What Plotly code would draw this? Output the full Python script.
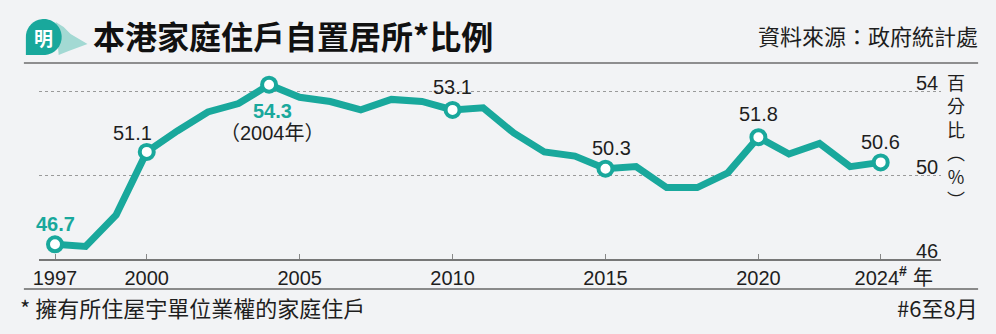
import numpy as np
import plotly.graph_objects as go

# Home-ownership rate of Hong Kong households (%), 1997-2024
years = list(range(1997, 2025))
rates = [46.7, 46.6, 48.1, 51.1, 52.1, 53.0, 53.4, 54.3, 53.7, 53.5,
         53.1, 53.6, 53.5, 53.1, 53.2, 52.0, 51.1, 50.9, 50.3, 50.4,
         49.4, 49.4, 50.1, 51.8, 51.0, 51.5, 50.4, 50.6]

# Highlighted years (circle markers with value labels)
key_years = [1997, 2000, 2004, 2010, 2015, 2020, 2024]
key_rates = [rates[years.index(y)] for y in key_years]

tick_years = [1997, 2000, 2005, 2010, 2015, 2020, 2024]
tick_labels = ["1997", "2000", "2005", "2010", "2015", "2020", "2024<sup><b>#</b></sup>"]
y_grid = [50, 54]
y_labels = ["46", "50", "54"]

TEAL = "#19a89c"
LIGHT_TEAL = "#a3d9d3"
BG = "#f2f3f5"
INK = "#1e1e1e"
W, H = 996, 334
FONT = "Liberation Sans, Arial, Noto Sans CJK TC, sans-serif"
CJK = "Noto Sans CJK TC, sans-serif"


def px(x):
    return x / W


def py(y):
    return 1 - y / H


fig = go.Figure()

fig.add_trace(go.Scatter(
    x=years, y=rates, mode="lines",
    line=dict(color=TEAL, width=7, shape="linear"),
    hoverinfo="skip", cliponaxis=False,
))
fig.add_trace(go.Scatter(
    x=key_years, y=key_rates, mode="markers",
    marker=dict(size=14, color="white", line=dict(color=TEAL, width=4)),
    hoverinfo="skip", cliponaxis=False,
))

annotations = []

# value labels above / beside the highlighted points
label_style = {
    1997: dict(color=TEAL, bold=True, dx=0, dy=20),
    2000: dict(color=INK, bold=False, dx=-14, dy=19),
    2004: dict(color=TEAL, bold=True, dx=3, dy=-26),
    2010: dict(color=INK, bold=False, dx=0, dy=23),
    2015: dict(color=INK, bold=False, dx=6, dy=21),
    2020: dict(color=INK, bold=False, dx=0, dy=23),
    2024: dict(color=INK, bold=False, dx=0, dy=20),
}
for yr, val in zip(key_years, key_rates):
    s = label_style[yr]
    txt = f"<b>{val:.1f}</b>" if s["bold"] else f"{val:.1f}"
    annotations.append(dict(
        x=yr, y=val, xref="x", yref="y", text=txt, showarrow=False,
        xanchor="center", yanchor="middle", xshift=s["dx"], yshift=s["dy"],
        font=dict(family=FONT, size=20, color=s["color"]),
    ))
annotations.append(dict(
    x=2004, y=rates[years.index(2004)], xref="x", yref="y",
    text="（2004年）", showarrow=False, xanchor="center", yanchor="middle",
    xshift=3, yshift=-48, font=dict(family=FONT, size=20, color=INK),
))

# y-axis values, sitting just above their grid lines on the right
for lab in y_labels:
    annotations.append(dict(
        x=px(940), y=float(lab), xref="paper", yref="y", text=lab,
        showarrow=False, xanchor="right", yanchor="bottom", yshift=-5,
        font=dict(family=FONT, size=20, color=INK),
    ))

# vertical unit label, one character per line
annotations.append(dict(
    x=px(956), y=py(140), xref="paper", yref="paper",
    text="百<br>分<br>比<br>︵<br>%<br>︶",
    showarrow=False, xanchor="center", yanchor="middle", align="center",
    font=dict(family=CJK, size=18, color=INK),
))

# year unit after the last tick
annotations.append(dict(
    x=px(923), y=py(276), xref="paper", yref="paper", text="年",
    showarrow=False, xanchor="center", yanchor="middle",
    font=dict(family=CJK, size=20, color=INK),
))

# title, source and footnotes
annotations += [
    dict(x=px(86), y=py(35), xref="paper", yref="paper",
         text="<b>本港家庭住戶自置居所*比例</b>", showarrow=False,
         xanchor="left", yanchor="middle",
         font=dict(family=CJK, size=32, color="#111")),
    dict(x=px(980), y=py(35), xref="paper", yref="paper",
         text="資料來源：政府統計處", showarrow=False,
         xanchor="right", yanchor="middle",
         font=dict(family=CJK, size=22, color=INK)),
    dict(x=px(12), y=py(307), xref="paper", yref="paper",
         text="* 擁有所住屋宇單位業權的家庭住戶", showarrow=False,
         xanchor="left", yanchor="middle",
         font=dict(family=CJK, size=22, color=INK)),
    dict(x=px(980), y=py(307), xref="paper", yref="paper",
         text="#6至8月", showarrow=False,
         xanchor="right", yanchor="middle",
         font=dict(family=CJK, size=22, color=INK)),
    dict(x=px(38), y=py(37), xref="paper", yref="paper",
         text="<b>明</b>", showarrow=False,
         xanchor="center", yanchor="middle",
         font=dict(family=CJK, size=19, color="white")),
]

# logo: speech bubble with a light tail
cx, cy, r = 38, 37, 18
ang = np.linspace(np.pi, -np.pi / 2, 60)  # left -> top -> right -> bottom (screen coords)
bubble = [(cx + r * np.cos(a), cy - r * np.sin(a)) for a in ang]
bubble += [(cx - 2, cy + r), (cx - r, cy + r), (cx - r, cy)]
bubble_path = "M " + " L ".join(f"{px(x):.5f},{py(y):.5f}" for x, y in bubble) + " Z"

tail = [(50, 22), (58, 27), (65, 34), (82, 44), (63, 51), (53, 55)]
tail_path = "M " + " L ".join(f"{px(x):.5f},{py(y):.5f}" for x, y in tail) + " Z"

shapes = [
    dict(type="path", path=tail_path, xref="paper", yref="paper",
         fillcolor=LIGHT_TEAL, line=dict(width=0), layer="above"),
    dict(type="path", path=bubble_path, xref="paper", yref="paper",
         fillcolor=TEAL, line=dict(width=0), layer="above"),
    dict(type="line", x0=px(18), x1=px(978), y0=py(63), y1=py(63),
         xref="paper", yref="paper", line=dict(color="#6d6d6d", width=1.5)),
    dict(type="line", x0=px(18), x1=px(978), y0=py(289), y1=py(289),
         xref="paper", yref="paper", line=dict(color="#8a8a8a", width=2)),
]

# axis geometry: 1997 at x=49px, 2024 at x=880px; 46 at y=259px, 54 at y=91px
x_lo = 1997 - (49.3 - 33) / 30.77
x_hi = 2024 + (941 - 880) / 30.77
y_top_val = 55.2
y_top_px = 91 - (y_top_val - 54) * 21

fig.update_layout(
    width=W, height=H,
    margin=dict(l=0, r=0, t=0, b=0),
    paper_bgcolor=BG, plot_bgcolor=BG,
    showlegend=False,
    annotations=annotations,
    shapes=shapes,
    xaxis=dict(
        domain=[px(33), px(941)], range=[x_lo, x_hi],
        tickvals=tick_years, ticktext=tick_labels,
        ticks="inside", ticklen=5, tickcolor="#888", tickwidth=1,
        showline=True, linecolor="#777", linewidth=1.5,
        showgrid=False, zeroline=False,
        tickfont=dict(family=FONT, size=20, color=INK),
        fixedrange=True,
    ),
    yaxis=dict(
        domain=[(H - 259) / H, (H - y_top_px) / H], range=[46, y_top_val],
        tickvals=y_grid, showticklabels=False, ticks="",
        showgrid=True, gridcolor="#9a9a9a", gridwidth=1, griddash="dot",
        zeroline=False, showline=False, fixedrange=True,
    ),
)

fig.write_html("out.html")
